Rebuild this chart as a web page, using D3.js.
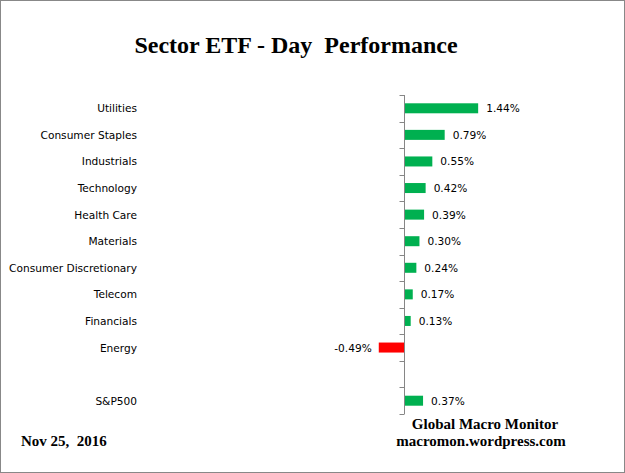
<!DOCTYPE html>
<html>
<head>
<meta charset="utf-8">
<script src="https://cdn.jsdelivr.net/npm/d3@7"></script>
<style>
  body { margin: 0; background: #fff; }
  svg { display: block; }
</style>
</head>
<body>
<div id="chart"></div>
<script>
// data
const sectors = ["Utilities", "Consumer Staples", "Industrials", "Technology", "Health Care",
  "Materials", "Consumer Discretionary", "Telecom", "Financials", "Energy", "", "S&P500"]
const changes = [1.44, 0.79, 0.55, 0.42, 0.39, 0.30, 0.24, 0.17, 0.13, -0.49, null, 0.37]

const width = 625, height = 473

const svg = d3.select("#chart")
  .append("svg")
    .attr("width", width)
    .attr("height", height)

// outer border
svg.append("rect")
  .attr("x", 0.5).attr("y", 0.5)
  .attr("width", width - 1).attr("height", height - 1)
  .attr("fill", "#fff")
  .attr("stroke", "#888")

// keys so the blank row gets its own slot
const keys = sectors.map((s, i) => i)

const y = d3.scaleBand()
  .domain(keys)
  .range([95, 414])

const x = d3.scaleLinear()
  .domain([-0.5, 1.5])
  .range([378.25, 481.25])

const rows = keys.filter(i => changes[i] !== null)
const barH = 10

// bars
svg.selectAll("rect.bar")
  .data(rows)
  .join("rect")
    .attr("class", "bar")
    .attr("x", i => Math.min(x(0), x(changes[i])))
    .attr("y", i => y(i) + y.bandwidth() / 2 - barH / 2)
    .attr("width", i => Math.abs(x(changes[i]) - x(0)))
    .attr("height", barH)
    .attr("fill", i => changes[i] < 0 ? "#ff0000" : "#00b050")

// vertical axis at zero with ticks at band boundaries
const x0 = Math.round(x(0)) + 0.5
svg.append("line")
  .attr("x1", x0).attr("x2", x0)
  .attr("y1", y.range()[0]).attr("y2", y.range()[1])
  .attr("stroke", "#868686")
svg.selectAll("line.tick")
  .data(keys.concat([keys.length]))
  .join("line")
    .attr("class", "tick")
    .attr("x1", x0 - 5).attr("x2", x0)
    .attr("y1", k => Math.round(y.range()[0] + k * y.step()) + 0.5)
    .attr("y2", k => Math.round(y.range()[0] + k * y.step()) + 0.5)
    .attr("stroke", "#868686")

// category labels
svg.selectAll("text.cat")
  .data(keys)
  .join("text")
    .attr("class", "cat")
    .attr("x", 137)
    .attr("y", i => y(i) + y.bandwidth() / 2 + 4)
    .attr("text-anchor", "end")
    .style("font-family", "DejaVu Sans, sans-serif")
    .style("font-size", "10.6px")
    .attr("fill", "#000")
    .text(i => sectors[i])

// value labels
svg.selectAll("text.val")
  .data(rows)
  .join("text")
    .attr("class", "val")
    .attr("x", i => changes[i] < 0 ? x(changes[i]) - 7 : x(changes[i]) + 8)
    .attr("y", i => y(i) + y.bandwidth() / 2 + 4)
    .attr("text-anchor", i => changes[i] < 0 ? "end" : "start")
    .style("font-family", "DejaVu Sans, sans-serif")
    .style("font-size", "10.6px")
    .attr("fill", "#000")
    .text(i => changes[i].toFixed(2) + "%")

// title
svg.append("text")
  .attr("x", 296).attr("y", 53)
  .attr("text-anchor", "middle")
  .style("font-family", "Liberation Serif, serif")
  .style("font-weight", "bold")
  .style("font-size", "24px")
  .style("white-space", "pre")
  .text("Sector ETF - Day  Performance")

// footer
const serif = "Liberation Serif, serif"
svg.append("text")
  .attr("x", 485).attr("y", 429)
  .attr("text-anchor", "middle")
  .style("font-family", serif).style("font-weight", "bold").style("font-size", "15px")
  .text("Global Macro Monitor")
svg.append("text")
  .attr("x", 481).attr("y", 446)
  .attr("text-anchor", "middle")
  .style("font-family", serif).style("font-weight", "bold").style("font-size", "15px")
  .text("macromon.wordpress.com")
svg.append("text")
  .attr("x", 21).attr("y", 446)
  .style("font-family", serif).style("font-weight", "bold").style("font-size", "15px")
  .style("white-space", "pre")
  .text("Nov 25,  2016")
</script>
</body>
</html>
